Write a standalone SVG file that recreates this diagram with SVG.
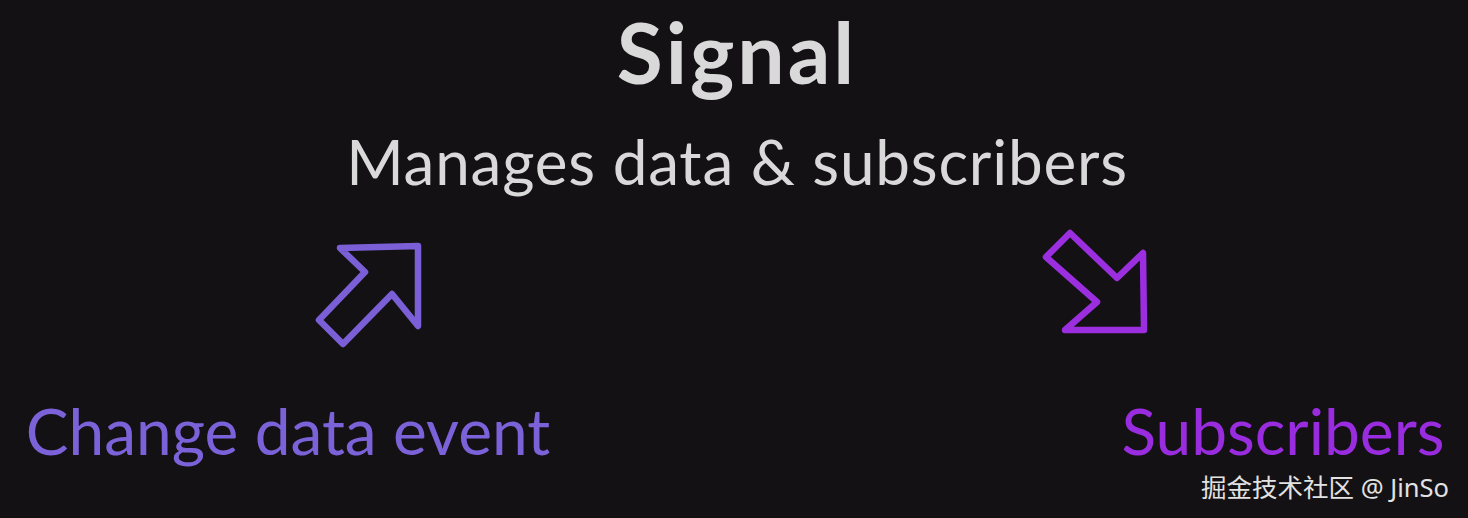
<svg xmlns="http://www.w3.org/2000/svg" width="1468" height="518" viewBox="0 0 1468 518">
<style>
.t{font-family:Lato,"Liberation Sans",sans-serif}
.w{fill:#d9d9d9}
.ar{fill:none;stroke-width:6.5;stroke-linejoin:round}
</style>
<rect width="1468" height="518" fill="#141115"/>
<g id="title"><text class="t w" x="737" y="84" font-size="84" font-weight="700" letter-spacing="3" text-anchor="middle">Signal</text></g>
<g id="subtitle"><text class="t w" x="737" y="185" font-size="62" letter-spacing="0.8" text-anchor="middle">Manages data &amp; subscribers</text></g>
<g id="connectors">
<polygon class="ar" stroke="#7b5fd6" points="418,246 340,248 365,272 319,320 343,344 392,294 418,326"/>
<polygon class="ar" stroke="#9b2fe0" points="1046,257 1070,233 1117,278 1143,253 1144,330 1065,330 1097,302"/>
</g>
<g id="change"><text class="t" fill="#7c62d8" x="288" y="455" font-size="64" text-anchor="middle">Change data event</text></g>
<g id="subscribers"><text class="t" fill="#9a2ce0" x="1283" y="455" font-size="64" text-anchor="middle">Subscribers</text></g>
<g id="watermark"><text x="1325" y="497" font-size="25.5" fill="#e2e2e2" text-anchor="middle" font-family="'Noto Sans','Noto Sans CJK SC',sans-serif">掘金技术社区 @ JinSo</text></g>
</svg>
